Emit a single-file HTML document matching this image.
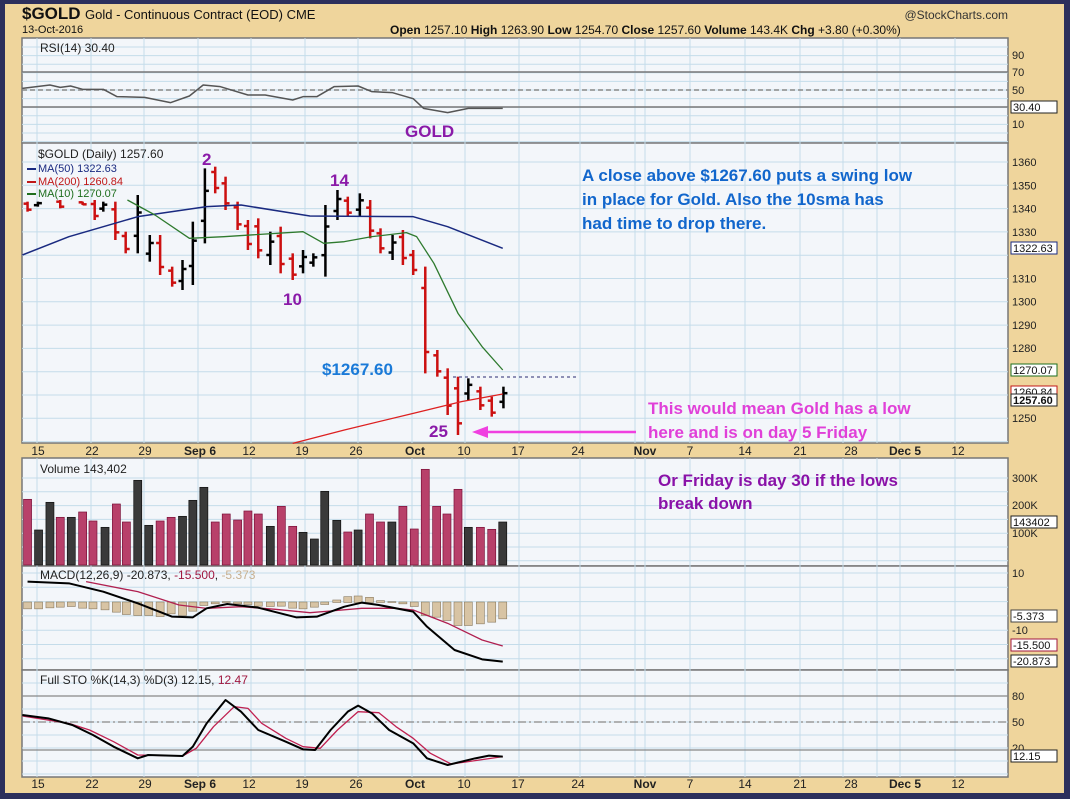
<!DOCTYPE html>
<html><head><meta charset="utf-8"><style>
html,body{margin:0;padding:0;background:#2c2f5c}
svg{display:block}
text{font-family:"Liberation Sans",sans-serif}
</style></head><body>
<svg id="s" width="1070" height="799" viewBox="0 0 1070 799" xmlns="http://www.w3.org/2000/svg">
<rect x="0" y="0" width="1070" height="799" fill="#2c2f5c"/>
<rect x="5" y="4" width="1059" height="789" fill="#efd59c"/>
<g id="panels"></g>
<g id="grid"></g>
<g id="data"></g>
<g id="txt" font-size="12">
<text x="22" y="19" font-size="17" font-weight="bold" fill="#111">$GOLD</text>
<text x="85" y="19" font-size="13" fill="#111">Gold - Continuous Contract (EOD) CME</text>
<text x="22" y="33" font-size="11" fill="#111">13-Oct-2016</text>
<text x="390" y="34" font-size="12" fill="#111"><tspan font-weight="bold">Open</tspan> 1257.10 <tspan font-weight="bold">High</tspan> 1263.90 <tspan font-weight="bold">Low</tspan> 1254.70 <tspan font-weight="bold">Close</tspan> 1257.60 <tspan font-weight="bold">Volume</tspan> 143.4K <tspan font-weight="bold">Chg</tspan> +3.80 (+0.30%)</text>
<text x="1008" y="19" font-size="12" fill="#333" text-anchor="end">@StockCharts.com</text>
<text x="40" y="52" font-size="12" fill="#222">RSI(14) 30.40</text>
<text x="405" y="137" font-size="17" font-weight="bold" fill="#8a1aa8">GOLD</text>
<text x="38" y="158" font-size="12" fill="#222">$GOLD (Daily) 1257.60</text>
<text x="38" y="172" font-size="11" fill="#1a2a80">MA(50) 1322.63</text>
<text x="38" y="185" font-size="11" fill="#c01818">MA(200) 1260.84</text>
<text x="38" y="197" font-size="11" fill="#1e6e1e">MA(10) 1270.07</text>
<rect x="27" y="168" width="9" height="2" fill="#1a2a80"/><rect x="27" y="181" width="9" height="2" fill="#c01818"/><rect x="27" y="193" width="9" height="2" fill="#1e6e1e"/>
<text x="202" y="165" font-size="17" font-weight="bold" fill="#8a1aa8">2</text>
<text x="330" y="186" font-size="17" font-weight="bold" fill="#8a1aa8">14</text>
<text x="283" y="305" font-size="17" font-weight="bold" fill="#8a1aa8">10</text>
<text x="429" y="437" font-size="17" font-weight="bold" fill="#8a1aa8">25</text>
<text x="322" y="375" font-size="17" font-weight="bold" fill="#1a7ad8">$1267.60</text>
<g font-size="17" font-weight="bold" fill="#1166cc">
<text x="582" y="181">A close above $1267.60 puts a swing low</text>
<text x="582" y="205">in place for Gold.  Also the 10sma has</text>
<text x="582" y="229">had time to drop there.</text></g>
<g font-size="17" font-weight="bold" fill="#e040d8">
<text x="648" y="414">This would mean Gold has a low</text>
<text x="648" y="438">here and is on day 5 Friday</text></g>
<g font-size="17" font-weight="bold" fill="#8a12a8">
<text x="658" y="486">Or Friday is day 30 if the lows</text>
<text x="658" y="509">break down</text></g>
<text x="40" y="473" font-size="12" fill="#222">Volume 143,402</text>
<text x="40" y="579" font-size="12" fill="#222">MACD(12,26,9) -20.873, <tspan fill="#a01840">-15.500</tspan>, <tspan fill="#c8b090">-5.373</tspan></text>
<text x="40" y="684" font-size="12" fill="#222">Full STO %K(14,3) %D(3) 12.15, <tspan fill="#a01840">12.47</tspan></text>
</g>
</svg>
<script>
var NS="http://www.w3.org/2000/svg",S=document.getElementById('s');
function el(p,t,a,txt){var e=document.createElementNS(NS,t);for(var k in a)e.setAttribute(k,a[k]);if(txt!=null)e.textContent=txt;document.getElementById(p).appendChild(e);return e;}
var L=22,R=1008;
var panels=[[38,143],[143,443],[458,566],[566,670],[670,777]];
panels.forEach(function(p){el('panels','rect',{x:L,y:p[0],width:R-L,height:p[1]-p[0],fill:'#f3f6fa',stroke:'#777','stroke-width':1.5});});
var vx=[37,91,144,198,251,305,358,412,465,519,580,635,645,690,745,800,843,877,900,955];
panels.forEach(function(p){vx.forEach(function(x){el('grid','line',{x1:x,x2:x,y1:p[0],y2:p[1],stroke:'#c4dcea','stroke-width':1});});});
function hg(y0,y1,step){for(var y=y0;y<y1;y+=step)el('grid','line',{x1:L,x2:R,y1:y,y2:y,stroke:'#c4dcea'});}
hg(47,143,8.6);hg(162,443,23.3);hg(478,566,13.8);hg(573,670,14.3);hg(683,777,13);
[[72,'#777',''],[90,'#888','5,3'],[107,'#777','']].forEach(function(a){el('grid','line',{x1:L,x2:R,y1:a[0],y2:a[0],stroke:a[1],'stroke-width':1.5,'stroke-dasharray':a[2]});});
[[696,''],[722,'8,3,2,3'],[750,'']].forEach(function(a){el('grid','line',{x1:L,x2:R,y1:a[0],y2:a[0],stroke:'#888','stroke-width':1.3,'stroke-dasharray':a[1]});});
var xl=[[38,'15'],[92,'22'],[145,'29'],[200,'Sep 6',1],[249,'12'],[302,'19'],[356,'26'],[415,'Oct',1],[464,'10'],[518,'17'],[578,'24'],[645,'Nov',1],[690,'7'],[745,'14'],[800,'21'],[851,'28'],[905,'Dec 5',1],[958,'12']];
[455,788].forEach(function(yy){xl.forEach(function(a){var t=el('txt','text',{x:a[0],y:yy,'text-anchor':'middle','font-size':12,fill:'#222'},a[1]);if(a[2])t.setAttribute('font-weight','bold');});});
function rl(y,s){el('txt','text',{x:1012,y:y+4,'font-size':11,fill:'#222'},s);}
[[55,'90'],[72,'70'],[90,'50'],[124,'10']].forEach(function(a){rl(a[0],a[1])});
for(var p=1360;p>=1250;p-=10){var y=162+(1360-p)*2.327;if(p!=1320&&p!=1270&&p!=1260)rl(y,''+p);}
[[478,'300K'],[505,'200K'],[533,'100K'],[573,'10'],[630,'-10'],[696,'80'],[722,'50'],[748,'20']].forEach(function(a){rl(a[0],a[1])});
function box(y,s,c,b){el('txt','rect',{x:1011,y:y-6,width:46,height:12,fill:'#fff',stroke:c,'stroke-width':1});el('txt','text',{x:1013,y:y+4,'font-size':11,fill:'#111','font-weight':b?'bold':'normal'},s);}
box(107,'30.40','#222');box(248,'1322.63','#1a2a80');box(370,'1270.07','#1e6e1e');box(392,'1260.84','#c01818');box(400,'1257.60','#222',1);
box(522,'143402','#222');box(616,'-5.373','#444');box(645,'-15.500','#a01840');box(661,'-20.873','#222');box(756,'12.15','#222');
var X=function(z){return z/2.904;},Y=function(z){return z/3+140;};
var bars=[[80,185,215,'r'],[110,185,200,'k'],[175,180,205,'r'],[240,185,195,'r'],[275,180,240,'r'],[300,185,215,'k'],[335,185,300,'r'],[365,275,340,'r'],[400,165,340,'k'],[435,285,365,'k'],[465,285,405,'r'],[500,380,440,'r'],[530,360,450,'k'],[560,245,435,'k'],[595,85,310,'k'],[625,80,160,'r'],[655,110,210,'r'],[690,185,270,'r'],[720,240,330,'r'],[750,235,355,'r'],[785,275,375,'k'],[815,260,400,'r'],[850,340,420,'r'],[880,330,400,'k'],[910,340,380,'k'],[945,195,410,'k'],[980,150,240,'k'],[1010,170,230,'r'],[1045,160,230,'k'],[1075,180,295,'r'],[1105,265,340,'r'],[1140,285,360,'k'],[1170,270,375,'r'],[1200,330,405,'r'],[1235,380,700,'r'],[1270,630,710,'r'],[1300,685,825,'r'],[1330,710,885,'r'],[1360,715,780,'k'],[1395,740,810,'r'],[1428,770,830,'r'],[1462,740,805,'k']];
bars.forEach(function(b){var x=X(b[0]),h=Y(b[1]),l=Y(b[2]),c=b[3]=='r'?'#cc1010':'#000',o,cl;
if(b[3]=='r'){o=h+(l-h)*0.2;cl=l-(l-h)*0.2;}else{o=l-(l-h)*0.3;cl=h+(l-h)*0.3;}
el('data','line',{x1:x,x2:x,y1:h,y2:l,stroke:c,'stroke-width':2.5});
el('data','line',{x1:x-4,x2:x,y1:o,y2:o,stroke:c,'stroke-width':2.5});
el('data','line',{x1:x,x2:x+4,y1:cl,y2:cl,stroke:c,'stroke-width':2.5});});
function pl(pts,c,w,fx,fy,dash){el('data','polyline',{points:pts.map(function(p){return fx(p[0])+','+fy(p[1])}).join(' '),fill:'none',stroke:c,'stroke-width':w,'stroke-dasharray':dash||'','stroke-linejoin':'round'});}
pl([[65,345],[200,290],[400,230],[600,200],[700,195],[900,228],[1200,230],[1300,260],[1460,325]],'#1a2a80',1.5,X,Y);
pl([[370,180],[450,225],[550,295],[650,290],[880,275],[940,310],[1000,305],[1080,290],[1180,278],[1210,290],[1260,370],[1330,520],[1400,620],[1460,690]],'#2e7a2e',1.3,X,Y);
pl([[850,910],[1000,870],[1200,820],[1340,785],[1460,762]],'#dd2020',1.3,X,Y);
el('data','line',{x1:453,x2:577,y1:377,y2:377,stroke:'#2a2a70','stroke-dasharray':'3,3'});
pl([[65,265],[145,255],[175,262],[205,258],[240,268],[300,268],[340,290],[420,292],[495,308],[550,288],[590,255],[640,260],[720,285],[770,285],[850,300],[880,290],[920,290],[970,260],[1040,258],[1080,275],[1140,278],[1200,296],[1230,325],[1300,338],[1360,325],[1460,325]],'#555',1.5,X,function(v){return v/3;});
el('data','line',{x1:485,x2:636,y1:432,y2:432,stroke:'#f040e0','stroke-width':2.5});
el('data','polygon',{points:'472,432 488,426 488,438',fill:'#f040e0'});
var vol=[[80,178,'r'],[112,270,'k'],[145,187,'k'],[175,232,'r'],[207,232,'k'],[240,216,'r'],[270,243,'r'],[305,262,'k'],[338,192,'r'],[367,246,'r'],[400,121,'k'],[432,256,'k'],[465,243,'r'],[497,232,'r'],[530,229,'k'],[560,181,'k'],[592,142,'k'],[625,246,'r'],[657,222,'r'],[690,240,'r'],[720,213,'r'],[750,222,'r'],[785,259,'k'],[817,199,'r'],[850,259,'r'],[880,277,'k'],[913,297,'k'],[943,154,'k'],[978,241,'k'],[1010,276,'r'],[1040,270,'k'],[1073,222,'r'],[1105,246,'r'],[1138,246,'k'],[1170,199,'r'],[1203,267,'r'],[1235,88,'r'],[1268,199,'r'],[1298,222,'r'],[1330,148,'r'],[1360,262,'k'],[1395,262,'r'],[1428,268,'r'],[1460,246,'k']];
var VY=function(z){return z/3+440;};
vol.forEach(function(v){var x=X(v[0]),t=VY(v[1]);el('data','rect',{x:x-4,y:t,width:8,height:565-t,fill:v[2]=='r'?'#b8406a':'#3a3a3a',stroke:v[2]=='r'?'#7a1038':'#111','stroke-width':0.7});});
var hb=[505,505,502,500,498,503,505,508,515,522,525,525,528,520,525,512,495,490,485,490,492,497,498,497,503,505,500,492,480,470,468,472,482,485,490,498,525,530,540,555,555,550,545,535];
hb.forEach(function(b,i){var x=X(vol[i][0]),z=602,yb=VY(b);el('data','rect',{x:x-4,y:Math.min(z,yb),width:8,height:Math.abs(yb-z)+0.5,fill:'#d8c4a4',stroke:'#8a7a60','stroke-width':0.6});});
pl([[250,425],[400,455],[520,495],[600,505],[700,500],[800,508],[900,518],[960,513],[1050,505],[1150,505],[1200,510],[1300,550],[1400,600],[1460,618]],'#b02050',1.3,X,VY);
pl([[80,425],[200,430],[300,455],[400,490],[500,530],[560,532],[600,505],[660,492],[750,503],[860,532],[920,530],[1000,500],[1050,488],[1100,495],[1200,515],[1240,560],[1320,630],[1400,658],[1460,665]],'#000',2,X,VY);
pl([[65,828],[200,850],[260,870],[330,905],[400,945],[530,948],[570,925],[620,860],[680,800],[720,805],[760,850],[830,895],[880,920],[930,925],[980,870],[1040,815],[1100,818],[1150,860],[1200,895],[1250,940],[1310,972],[1380,962],[1460,950]],'#c02050',1.3,X,VY);
pl([[65,825],[140,835],[210,855],[270,885],[330,920],[400,955],[430,945],[530,948],[560,920],[600,850],[655,780],[700,815],[750,870],[830,905],[880,928],[915,930],[960,870],[1010,815],[1040,797],[1080,820],[1130,870],[1200,910],[1240,955],[1300,975],[1380,955],[1420,947],[1460,950]],'#000',2,X,VY);
</script>
</body></html>
